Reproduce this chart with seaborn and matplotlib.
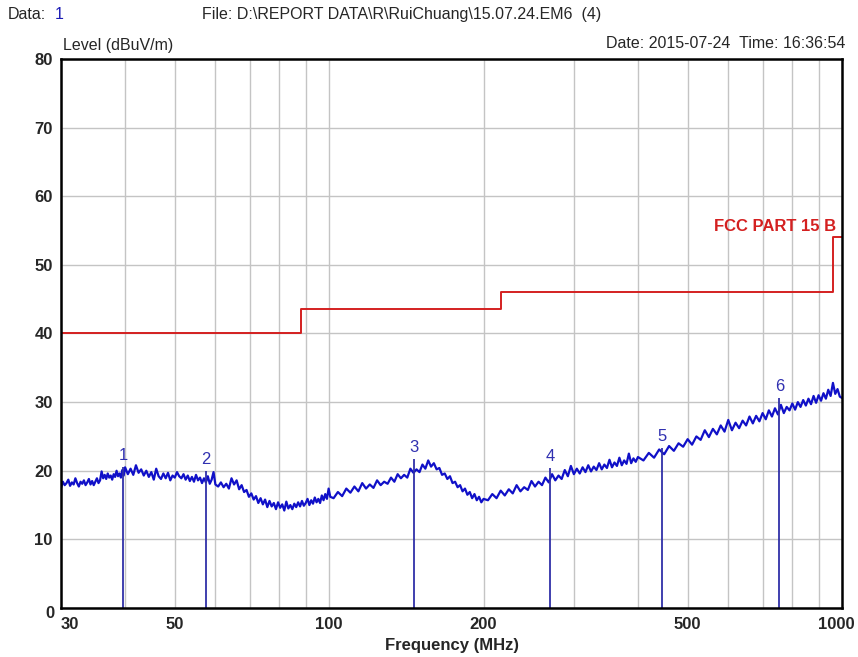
import matplotlib
matplotlib.use("Agg")
import matplotlib.pyplot as plt
import matplotlib.transforms as mtransforms
import pandas as pd
import seaborn as sns

# --- datos ---
freq_mhz = [
    30.0, 30.25, 30.5, 30.75, 31.0, 31.25, 31.5, 31.75, 32.0, 32.25, 32.5, 32.75, 33.0, 33.25,
    33.5, 33.75, 34.0, 34.25, 34.5, 34.75, 35.0, 35.25, 35.5, 35.75, 36.0, 36.25, 36.5, 36.75,
    37.0, 37.25, 37.5, 37.75, 38.0, 38.25, 38.5, 38.75, 39.0, 39.25, 39.5, 39.75, 40.0,
    40.5, 41.0, 41.5, 42.0, 42.5, 43.0, 43.5, 44.0, 44.5, 45.0, 45.5, 46.0, 46.5, 47.0, 47.5,
    48.0, 48.5, 49.0, 49.5, 50.0, 50.5, 51.0, 51.5, 52.0, 52.5, 53.0, 53.5, 54.0, 54.5, 55.0,
    55.5, 56.0, 56.5, 57.0, 57.5, 58.0, 58.5, 59.0, 59.5, 60.0,
    60.75, 61.5, 62.25, 63.0, 63.75, 64.5, 65.25, 66.0, 66.75, 67.5, 68.25, 69.0, 69.75, 70.5,
    71.25, 72.0, 72.75, 73.5, 74.25, 75.0, 75.75, 76.5, 77.25, 78.0, 78.75, 79.5, 80.25, 81.0,
    81.75, 82.5, 83.25, 84.0, 84.75, 85.5, 86.25, 87.0, 87.75, 88.5, 89.25, 90.0, 90.75, 91.5,
    92.25, 93.0, 93.75, 94.5, 95.25, 96.0, 96.75, 97.5, 98.25, 99.0, 99.75, 100.5,
    102, 104, 106, 108, 110, 112, 114, 116, 118, 120, 122, 124, 126, 128, 130, 132, 134, 136,
    138, 140, 142, 144, 146, 148, 150, 152, 154, 156, 158, 160, 162, 164, 166, 168, 170, 172,
    174, 176, 178, 180, 182, 184, 186, 188, 190, 192, 194, 196, 198, 200,
    204, 208, 212, 216, 220, 224, 228, 232, 236, 240, 244, 248, 252, 256, 260, 264, 268, 272,
    276, 280, 284, 288, 292, 296, 300, 304, 308, 312, 316, 320, 324, 328, 332, 336, 340, 344,
    348, 352, 356, 360, 364, 368, 372, 376, 380, 384, 388, 392, 396, 400,
    410, 420, 430, 440, 450, 460, 470, 480, 490, 500, 510, 520, 530, 540, 550, 560, 570, 580,
    590, 600, 610, 620, 630, 640, 650, 660, 670, 680, 690, 700, 710, 720, 730, 740, 750, 760,
    770, 780, 790, 800, 810, 820, 830, 840, 850, 860, 870, 880, 890, 900, 910, 920, 930, 940,
    950, 960, 970, 980, 990, 1000,
]
level_dbuv = [
    17.5, 18.4, 17.9, 18.2, 18.7, 17.8, 18.3, 18.0, 18.9, 18.2, 17.7, 18.4, 18.1, 18.6,
    17.9, 18.3, 18.8, 18.0, 18.5, 17.9, 18.4, 18.9, 18.2, 18.6, 19.9, 18.9, 19.4, 18.8,
    19.6, 19.0, 19.3, 18.7, 19.5, 19.1, 20.0, 19.2, 19.6, 19.0, 20.1, 19.3, 20.5,
    19.5, 20.3, 19.4, 20.8, 19.7, 20.2, 19.3, 20.0, 19.1, 19.8, 18.7, 20.3, 19.2, 18.8, 19.6,
    18.9, 19.7, 18.6, 19.3, 19.0, 19.8, 19.2, 18.9, 19.5, 18.7, 19.3, 18.5, 19.1, 18.4, 19.4,
    18.6, 19.0, 18.2, 18.9, 18.3, 19.2, 18.1, 18.7, 19.8, 18.0,
    17.7, 18.3, 17.6, 18.1, 17.4, 18.9, 18.0, 18.6, 17.3, 17.9, 16.9, 17.2, 16.2, 16.7,
    15.8, 16.3, 15.3, 16.0, 15.1, 15.8, 14.7, 15.6, 14.8, 15.3, 14.4, 15.4, 14.6, 15.1,
    14.2, 15.5, 14.5, 15.0, 14.4, 15.2, 14.7, 15.4, 14.8, 15.6, 14.9, 15.3, 15.9, 15.0,
    15.7, 15.2, 16.1, 15.4, 15.9, 15.3, 16.4, 15.7, 16.6, 15.9, 17.4, 16.2,
    16.0, 16.9, 16.3, 17.4, 16.8, 17.7, 17.0, 18.2, 17.4, 18.0, 17.5, 18.6, 17.9, 18.4, 18.1,
    19.0, 18.4, 19.5, 18.9, 19.4, 19.0, 20.3, 19.7, 20.2, 19.8, 20.9, 20.3, 21.5, 20.6, 21.1,
    20.2, 20.4, 19.4, 19.6, 18.8, 19.2, 18.2, 18.4, 17.6, 17.9, 17.0, 17.4, 16.5, 16.9, 16.0,
    16.6, 15.7, 16.2, 15.4, 15.9,
    15.7, 16.6, 16.0, 17.1, 16.4, 17.3, 16.7, 17.9, 17.0, 17.6, 17.2, 18.5, 17.7, 18.4, 17.9,
    19.0, 18.3, 19.5, 18.6, 19.3, 18.8, 20.1, 19.2, 20.7, 19.5, 20.3, 19.6, 20.5, 19.8, 20.8,
    19.9, 20.6, 20.1, 21.1, 20.2, 20.9, 20.4, 21.6, 20.5, 21.2, 20.7, 21.9, 20.8, 21.5, 21.0,
    22.5, 21.1, 21.8, 21.3, 22.0,
    21.5, 22.6, 21.9, 23.1, 22.4, 23.6, 22.9, 24.0, 23.5, 24.6, 23.8, 25.0, 24.5, 25.9, 24.9,
    26.1, 25.3, 26.6, 25.7, 27.4, 25.9, 27.0, 26.2, 27.3, 26.6, 27.9, 26.9, 28.0, 27.2, 28.4,
    27.5, 28.8, 27.9, 29.1, 28.2, 29.6, 28.4, 29.3, 28.8, 29.8, 28.9, 30.0, 29.3, 30.3, 29.5,
    30.5, 29.7, 30.9, 29.9, 31.0, 30.2, 31.3, 30.5, 31.8, 30.9, 32.8, 31.2, 31.9, 30.8, 30.6,
]

# limite FCC Part 15 B
limit_freq = [30, 88, 88, 216, 216, 960, 960, 1000]
limit_level = [40, 40, 43.5, 43.5, 46, 46, 54, 54]

# marcadores
marker_ids = ["1", "2", "3", "4", "5", "6"]
marker_freq = [39.7, 57.6, 146.2, 269.8, 444.9, 755.0]
marker_level = [20.6, 19.9, 21.7, 20.4, 23.3, 30.6]

x_ticks = [30, 50, 100, 200, 500, 1000]
x_minor = [40, 60, 70, 80, 90, 300, 400, 600, 700, 800, 900]
y_ticks = [0, 10, 20, 30, 40, 50, 60, 70, 80]

sns.set_style("white")
plt.rcParams["font.family"] = ["Liberation Sans", "DejaVu Sans"]

df_traza = pd.DataFrame({"freq": freq_mhz, "level": level_dbuv})
df_limite = pd.DataFrame({"freq": limit_freq, "level": limit_level})

fig = plt.figure(figsize=(8.58, 6.57), dpi=100)
ax = fig.add_axes([0.0711, 0.0746, 0.9103, 0.8356])

ax.set_xscale("log")
sns.lineplot(data=df_limite, x="freq", y="level", ax=ax, estimator=None, sort=False,
             color="#d42020", linewidth=1.4)
sns.lineplot(data=df_traza, x="freq", y="level", ax=ax, estimator=None, sort=False,
             color="#1010c8", linewidth=1.6)

ax.vlines(marker_freq, 0, marker_level, color="#3030a8", linewidth=1.3)
for m, f, l in zip(marker_ids, marker_freq, marker_level):
    ax.text(f, l + 0.6, m, color="#3030b0", fontsize=12, ha="center", va="bottom")

ax.text(975, 54.5, "FCC PART 15 B", color="#d42020", fontsize=12, fontweight="bold",
        ha="right", va="bottom")

ax.set_xlim(30, 1000)
ax.set_ylim(0, 80)
ax.set_xticks(x_ticks)
ax.set_xticklabels([str(t) for t in x_ticks])
ax.set_xticks(x_minor, minor=True)
ax.set_xticklabels([], minor=True)
ax.set_yticks(y_ticks)
ax.tick_params(axis="both", which="both", length=0, labelsize=12)
ax.tick_params(axis="x", pad=6.5)
ax.tick_params(axis="y", pad=6)
for lab in ax.get_xticklabels() + ax.get_yticklabels():
    lab.set_fontweight("bold")

# desplazar etiquetas de los extremos como en el original
xlabs = ax.get_xticklabels()
xlabs[0].set_transform(xlabs[0].get_transform() +
                       mtransforms.ScaledTranslation(9 / 100, 0, fig.dpi_scale_trans))
xlabs[-1].set_transform(xlabs[-1].get_transform() +
                        mtransforms.ScaledTranslation(-6 / 100, 0, fig.dpi_scale_trans))
ylabs = ax.get_yticklabels()
ylabs[0].set_transform(ylabs[0].get_transform() +
                       mtransforms.ScaledTranslation(2 / 100, -4 / 100, fig.dpi_scale_trans))

ax.grid(True, which="both", color="#c4c4c4", linewidth=1.0)
ax.set_axisbelow(True)
for s in ax.spines.values():
    s.set_color("black")
    s.set_linewidth(1.8)

ax.set_xlabel("Frequency (MHz)", fontsize=12, fontweight="bold", labelpad=4)
ax.set_ylabel("")

# textos de cabecera
fig.text(0.009, 0.978, "Data:", fontsize=11.5, ha="left", va="center")
fig.text(0.064, 0.978, "1", fontsize=11.5, color="#1a1ab4", ha="left", va="center")
fig.text(0.236, 0.978, "File: D:\\REPORT DATA\\R\\RuiChuang\\15.07.24.EM6  (4)", fontsize=11.5,
         ha="left", va="center")
fig.text(0.073, 0.931, "Level (dBuV/m)", fontsize=11.5, ha="left", va="center")
fig.text(0.985, 0.934, "Date: 2015-07-24  Time: 16:36:54", fontsize=11.5, ha="right", va="center")

fig.savefig("out.png", dpi=100)
